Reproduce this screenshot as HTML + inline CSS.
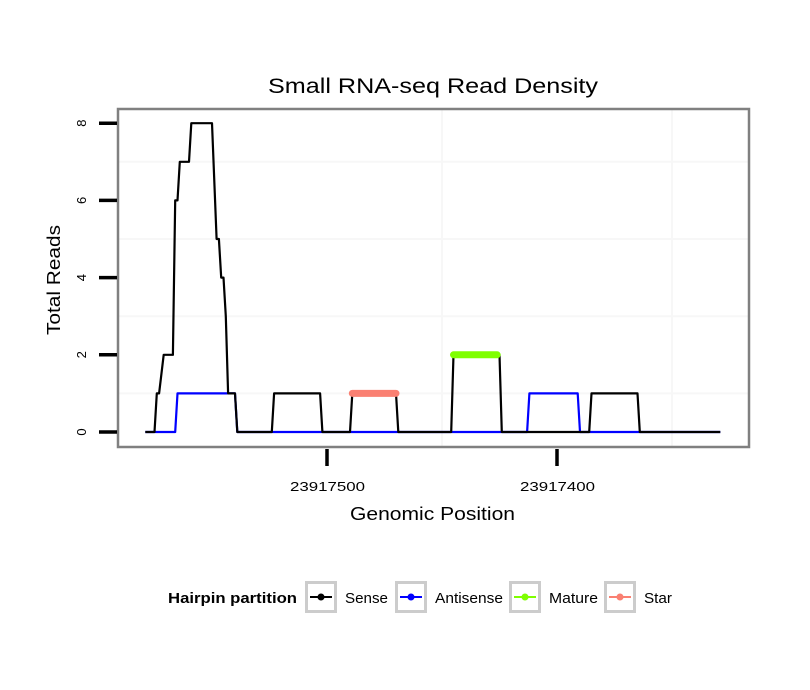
<!DOCTYPE html>
<html><head><meta charset="utf-8"><style>
body{margin:0;background:#fff}
svg{display:block;font-family:"Liberation Sans",sans-serif}
</style></head><body>
<svg id="chart" width="810" height="690" viewBox="0 0 810 690"></svg>
<script>
const BASE = 23917500;
// sense breakpoints: genomic positions and read values
const sensePos = [23917579,23917575,23917574,23917573,23917571,23917567,23917566,23917565,23917564,23917560,23917559,23917550,23917548,23917547,23917546,23917545,23917544,23917543,23917540,23917539,23917524,23917523,23917503,23917502,23917490,23917489,23917470,23917469,23917446,23917445,23917425,23917424,23917386,23917385,23917365,23917364,23917329];
const senseVal = [0,0,1,1,2,2,6,6,7,7,8,8,5,5,4,4,3,1,1,0,0,1,1,0,0,1,1,0,0,2,2,0,0,1,1,0,0];
const antiPos = [23917579,23917566,23917565,23917540,23917539,23917413,23917412,23917391,23917390,23917329];
const antiVal = [0,0,1,1,0,0,1,1,0,0];
const starPos = [23917489,23917470];
const starVal = [1,1];
const maturePos = [23917445,23917426];
const matureVal = [2,2];
const yTicks = [0,2,4,6,8];
const xTicks = [23917500,23917400];
const legendLabels = ["Sense","Antisense","Mature","Star"];
const legendColors = ["#000000","#0000ff","#7fff00","#fa8072"];

const svg = document.getElementById('chart');
const NS = 'http://www.w3.org/2000/svg';
const X = p => 327 + (BASE - p) * 2.3;
const Y = v => 432 - v * 38.6;
function mk(tag, attrs, parent){const e=document.createElementNS(NS,tag);for(const k in attrs)e.setAttribute(k,attrs[k]);(parent||svg).appendChild(e);return e;}

const panel = mk('rect',{x:118,y:109,width:631,height:338,fill:'#fff'});


const GC='#f7f7f7';
[1,3,5,7].forEach(v=>{const g=mk('line',{x1:118,x2:749,y1:Y(v),y2:Y(v),stroke:GC,'stroke-width':2});});
[23917450,23917350].forEach(p=>{const g=mk('line',{x1:X(p),x2:X(p),y1:109,y2:447,stroke:GC,'stroke-width':2});});

function series(pos,val,color,w,name,cap){
  const pts=pos.map((p,i)=>X(p).toFixed(1)+','+Y(val[i]).toFixed(1)).join(' ');
  const l=mk('polyline',{points:pts,fill:'none',stroke:color,'stroke-width':w,'stroke-linejoin':'round','stroke-linecap':cap||'butt'});
  
  
}
series(antiPos,antiVal,'#0000ff',2.2,'antisense-line');
series(sensePos,senseVal,'#000',2.2,'sense-line');
series(starPos,starVal,'#fa8072',7,'star-line','round');
series(maturePos,matureVal,'#7fff00',7,'mature-line','round');

const border=mk('rect',{x:118,y:109,width:631,height:338,fill:'none',stroke:'#808080','stroke-width':2.5});



yTicks.forEach(v=>{
  const t=mk('line',{x1:99,x2:117,y1:Y(v),y2:Y(v),stroke:'#000','stroke-width':3.5});
  
  
  const tx=mk('text',{x:0,y:0,transform:`translate(86,${Y(v)}) rotate(-90)`,'text-anchor':'middle','font-size':13});
  tx.textContent=v;
  
  
});
xTicks.forEach(p=>{
  const t=mk('line',{x1:X(p),x2:X(p),y1:449,y2:466,stroke:'#000','stroke-width':3.5});
  
  
  const tx=mk('text',{x:X(p)-37,y:491,'font-size':13,textLength:75,lengthAdjust:'spacingAndGlyphs'});
  tx.textContent=p;
  
  
});

const title=mk('text',{x:268,y:93,'font-size':21,textLength:330,lengthAdjust:'spacingAndGlyphs'});
title.textContent='Small RNA-seq Read Density';


const xt=mk('text',{x:350,y:520,'font-size':18,textLength:165,lengthAdjust:'spacingAndGlyphs'});
xt.textContent='Genomic Position';


const yt=mk('text',{x:0,y:0,transform:'translate(60,335) rotate(-90)','font-size':18,textLength:110,lengthAdjust:'spacingAndGlyphs'});
yt.textContent='Total Reads';



const lt=mk('text',{x:168,y:603,'font-size':15,'font-weight':'bold',textLength:129,lengthAdjust:'spacingAndGlyphs'});
lt.textContent='Hairpin partition';


const boxX=[305,395,509,604];
const labW=[43,68,49,28];
legendLabels.forEach((lab,i)=>{
  const g=mk('g',{});
  
  
  mk('rect',{x:boxX[i]+1.5,y:582.5,width:29,height:29,fill:'#fff',stroke:'#cccccc','stroke-width':3},g);
  mk('line',{x1:boxX[i]+5,x2:boxX[i]+27,y1:597,y2:597,stroke:legendColors[i],'stroke-width':2},g);
  mk('circle',{cx:boxX[i]+16,cy:597,r:3.5,fill:legendColors[i]},g);
  const t=mk('text',{x:boxX[i]+40,y:603,'font-size':15,textLength:labW[i],lengthAdjust:'spacingAndGlyphs'},g);
  t.textContent=lab;
});
</script>
</body></html>
